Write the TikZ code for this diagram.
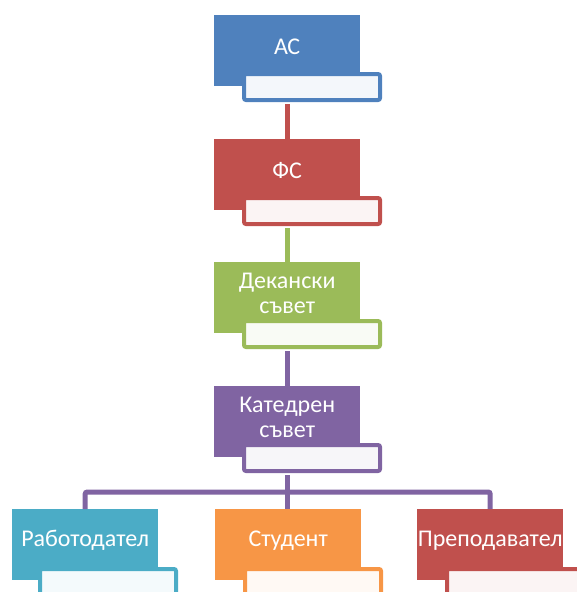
\documentclass[tikz,border=0pt]{standalone}
\usepackage{fontspec}
\setmainfont{Carlito}
\definecolor{cBlue}{HTML}{4F81BD}
\definecolor{cRed}{HTML}{C0504D}
\definecolor{cGreen}{HTML}{9BBB59}
\definecolor{cPurple}{HTML}{8064A2}
\definecolor{cCyan}{HTML}{4BACC6}
\definecolor{cOrange}{HTML}{F79646}
\tikzset{
  mainbox/.style={fill=#1, draw=none, minimum width=146pt, minimum height=71pt, inner sep=0pt, anchor=north west},
  subbox/.style={fill=#1!6!white, draw=#1, line width=4pt, rounded corners=2pt, minimum width=136pt, minimum height=26pt, inner sep=0pt, anchor=north west},
  lbl/.style={text=white, font=\fontsize{24}{25}\selectfont, align=center, inner sep=0pt},
  conn/.style={draw=#1, line width=5pt},
}
\begin{document}
\begin{tikzpicture}[x=1pt,y=-1pt]
\useasboundingbox (0,0) rectangle (576,592);
% row 1
\node[mainbox=cBlue] (ac) at (214,15) {};
\node[subbox=cBlue] (acI) at ([xshift=28pt,yshift=-57pt]ac.north west) {};
\node[lbl] (acT) at ([yshift=3.5pt]ac.center) {АС};
% row 2
\node[mainbox=cRed] (fs) at (214,139) {};
\node[subbox=cRed] (fsI) at ([xshift=28pt,yshift=-57pt]fs.north west) {};
\node[lbl] (fsT) at ([yshift=4.5pt]fs.center) {ФС};
% row 3
\node[mainbox=cGreen] (ds) at (214,262) {};
\node[subbox=cGreen] (dsI) at ([xshift=28pt,yshift=-57pt]ds.north west) {};
\node[lbl] (dsT) at ([yshift=4.5pt]ds.center) {Декански\\съвет};
% row 4
\node[mainbox=cPurple] (ks) at (214,386) {};
\node[subbox=cPurple] (ksI) at ([xshift=28pt,yshift=-57pt]ks.north west) {};
\node[lbl] (ksT) at ([yshift=4.5pt]ks.center) {Катедрен\\съвет};
% bottom row
\node[mainbox=cCyan] (rb) at (12,509) {};
\node[subbox=cCyan] (rbI) at ([xshift=26pt,yshift=-58pt]rb.north west) {};
\node[lbl] (rbT) at ([yshift=4pt]rb.center) {Работодател};
\node[mainbox=cOrange] (st) at (215,509) {};
\node[subbox=cOrange] (stI) at ([xshift=28pt,yshift=-58pt]st.north west) {};
\node[lbl] (stT) at ([yshift=4pt]st.center) {Студент};
\node[mainbox=cRed] (pr) at (417,509) {};
\node[subbox=cRed] (prI) at ([xshift=28pt,yshift=-58pt]pr.north west) {};
\node[lbl] (prT) at ([yshift=4pt]pr.center) {Преподавател};
% connectors
\draw[conn=cRed] (ac.center |- acI.south) ++(0,2) -- (fs.north);
\draw[conn=cGreen] (fs.center |- fsI.south) ++(0,2) -- (ds.north);
\draw[conn=cPurple] (ds.center |- dsI.south) ++(0,2) -- (ks.north);
\coordinate (bar) at (288,492);
\draw[conn=cPurple] (ks.center |- ksI.south) ++(0,2) -- (st.north -| ks.center);
\draw[conn=cPurple, rounded corners=2pt] (rb.north) -- (rb.north |- bar) -- (pr.north |- bar) -- (pr.north);
\end{tikzpicture}
\end{document}
